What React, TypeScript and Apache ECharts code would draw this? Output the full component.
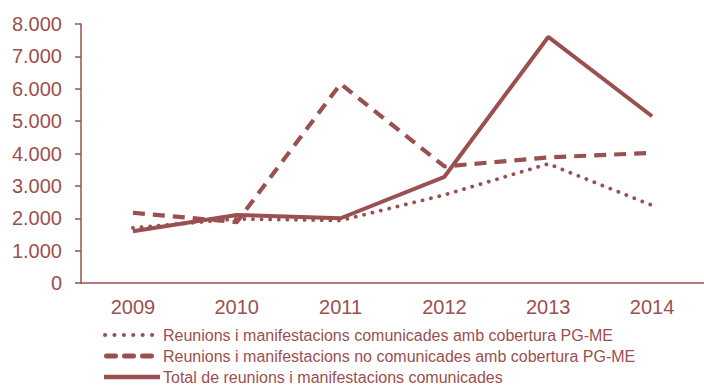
import React, { useEffect, useRef } from "react";
import * as echarts from "echarts";

const years = ["2009", "2010", "2011", "2012", "2013", "2014"];
const dottedName = "Reunions i manifestacions comunicades amb cobertura PG-ME";
const dashedName = "Reunions i manifestacions no comunicades amb cobertura PG-ME";
const solidName = "Total de reunions i manifestacions comunicades";
const dottedValues = [1700, 1980, 1930, 2720, 3680, 2400];
const dashedValues = [2170, 1880, 6150, 3600, 3880, 4020];
const solidValues = [1600, 2100, 2000, 3280, 7600, 5150];

const C = "#9a5050";
const FONT = "Liberation Sans, Arial, sans-serif";

const dotted = { color: C, width: 3.8, type: [0.1, 8.5], cap: "round" };
const dashed = { color: C, width: 4.2, type: [12, 8] };
const solid = { color: C, width: 4 };

function legendRow(name: string, y: number, x1: number, x2: number, stroke: any) {
  return {
    type: "group",
    children: [
      {
        type: "line",
        shape: { x1, y1: y, x2, y2: y },
        style: { stroke: C, ...stroke },
      },
      {
        type: "text",
        x: 163,
        y,
        style: { text: name, fill: C, font: `16px ${FONT}`, verticalAlign: "middle" },
      },
    ],
  };
}

export default function App() {
  const ref = useRef<HTMLDivElement>(null);
  useEffect(() => {
    const chart = echarts.init(ref.current!, undefined, { renderer: "svg" });
    chart.setOption({
      animation: false,
      textStyle: { fontFamily: FONT },
      grid: { left: 81, top: 24, bottom: 102, right: -10 },
      xAxis: {
        type: "category",
        data: years,
        boundaryGap: true,
        axisLine: { lineStyle: { color: C, width: 1.5 } },
        axisTick: { lineStyle: { color: C, width: 1.5 }, length: 6 },
        axisLabel: { color: C, fontSize: 20, fontFamily: FONT, margin: 14 },
      },
      yAxis: {
        type: "value",
        min: 0,
        max: 8000,
        interval: 1000,
        splitLine: { show: false },
        axisLine: { show: true, lineStyle: { color: C, width: 1.5 } },
        axisTick: { show: true, length: 6, lineStyle: { color: C, width: 1.5 } },
        axisLabel: {
          color: C,
          fontSize: 20,
          fontFamily: FONT,
          margin: 19,
          formatter: (v: number) => v.toLocaleString("de-DE"),
        },
      },
      graphic: [
        legendRow(dottedName, 335, 105, 153, { lineWidth: 4, lineDash: [0.1, 9.3], lineCap: "round" }),
        legendRow(dashedName, 356, 106.5, 152, { lineWidth: 5, lineDash: [9, 9], lineCap: "round" }),
        legendRow(solidName, 377, 104, 160, { lineWidth: 4.5 }),
      ],
      series: [
        { name: dottedName, type: "line", data: dottedValues, symbol: "none", lineStyle: dotted },
        { name: dashedName, type: "line", data: dashedValues, symbol: "none", lineStyle: dashed },
        { name: solidName, type: "line", data: solidValues, symbol: "none", lineStyle: solid },
      ],
    });
    return () => chart.dispose();
  }, []);
  return <div ref={ref} style={{ width: 704, height: 385, position: "absolute", left: 0, top: 0 }} />;
}
